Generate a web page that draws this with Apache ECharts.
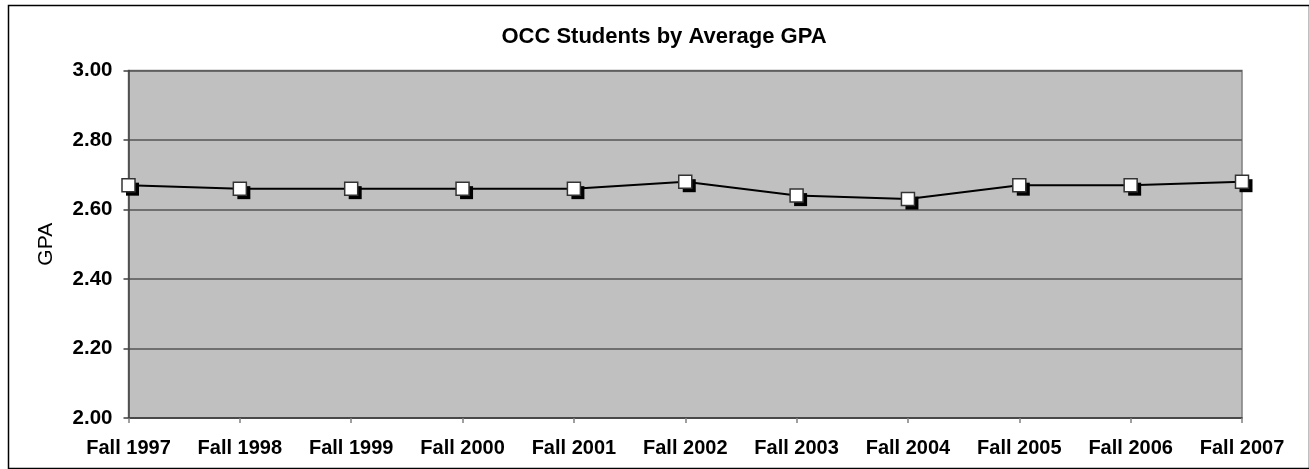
<!DOCTYPE html>
<html>
<head>
<meta charset="utf-8">
<script src="https://cdn.jsdelivr.net/npm/echarts@6/dist/echarts.min.js"></script>
<style>
html,body{margin:0;padding:0;background:#fff;}
#chart{width:1309px;height:469px;}
</style>
</head>
<body>
<div id="chart"></div>
<script>
var categories = ["Fall 1997","Fall 1998","Fall 1999","Fall 2000","Fall 2001","Fall 2002","Fall 2003","Fall 2004","Fall 2005","Fall 2006","Fall 2007"];
var gpaValues = [2.67, 2.66, 2.66, 2.66, 2.66, 2.68, 2.64, 2.63, 2.67, 2.67, 2.68];
var chartTitle = "OCC Students by Average GPA";
var yAxisName = "GPA";

var chart = echarts.init(document.getElementById('chart'), null, {renderer: 'canvas'});
var font = '"Liberation Sans", Arial, sans-serif';
chart.setOption({
  animation: false,
  backgroundColor: '#ffffff',
  title: {
    text: chartTitle,
    left: 659, top: 21, textAlign: 'center',
    textStyle: {fontFamily: font, fontSize: 22, fontWeight: 'bold', color: '#000'}
  },
  graphic: [{
    type: 'rect', left: 6, top: 3, z: -1,
    shape: {width: 1301, height: 463},
    style: {fill: 'none', stroke: '#000', lineWidth: 1.5}
  }],
  grid: {
    left: 128.5, right: 67, top: 70.5, bottom: 51,
    show: true, backgroundColor: '#c0c0c0', borderColor: '#808080', borderWidth: 1.5
  },
  xAxis: {
    type: 'category', data: categories, boundaryGap: false,
    axisLine: {show: true, lineStyle: {color: '#404040', width: 1.5}},
    axisTick: {show: true, interval: 0, length: 5, lineStyle: {color: '#808080', width: 1.5}},
    axisLabel: {interval: 0, hideOverlap: false, margin: 20, fontFamily: font, fontSize: 20, fontWeight: 'bold', color: '#000'},
    splitLine: {show: false}
  },
  yAxis: {
    type: 'value', min: 2.0, max: 3.0, interval: 0.2,
    name: yAxisName, nameLocation: 'middle', nameGap: 72, nameRotate: 90,
    nameTextStyle: {fontFamily: font, fontSize: 21, color: '#000'},
    axisLine: {show: true, lineStyle: {color: '#404040', width: 1.5}},
    axisTick: {show: true, length: 5, lineStyle: {color: '#404040', width: 1.5}},
    axisLabel: {margin: 16, fontFamily: font, fontSize: 20.5, fontWeight: 'bold', color: '#000',
      formatter: function (v) { return v.toFixed(2); }},
    splitLine: {show: true, lineStyle: {color: '#555', width: 1.5}}
  },
  series: [{
    name: 'line', type: 'line', data: gpaValues, z: 2,
    symbol: 'none',
    lineStyle: {color: '#000', width: 2},
    emphasis: {disabled: true}
  }, {
    name: 'shadow', type: 'line', data: gpaValues, z: 3,
    symbol: 'rect', symbolSize: 13, symbolOffset: [4, 4], showSymbol: true,
    lineStyle: {width: 0, opacity: 0},
    itemStyle: {color: '#000', borderWidth: 0},
    emphasis: {disabled: true}
  }, {
    name: 'marker', type: 'line', data: gpaValues, z: 4,
    symbol: 'rect', symbolSize: 13, showSymbol: true,
    lineStyle: {width: 0, opacity: 0},
    itemStyle: {color: '#fff', borderColor: '#333', borderWidth: 1.5},
    emphasis: {disabled: true}
  }]
});
</script>
</body>
</html>
